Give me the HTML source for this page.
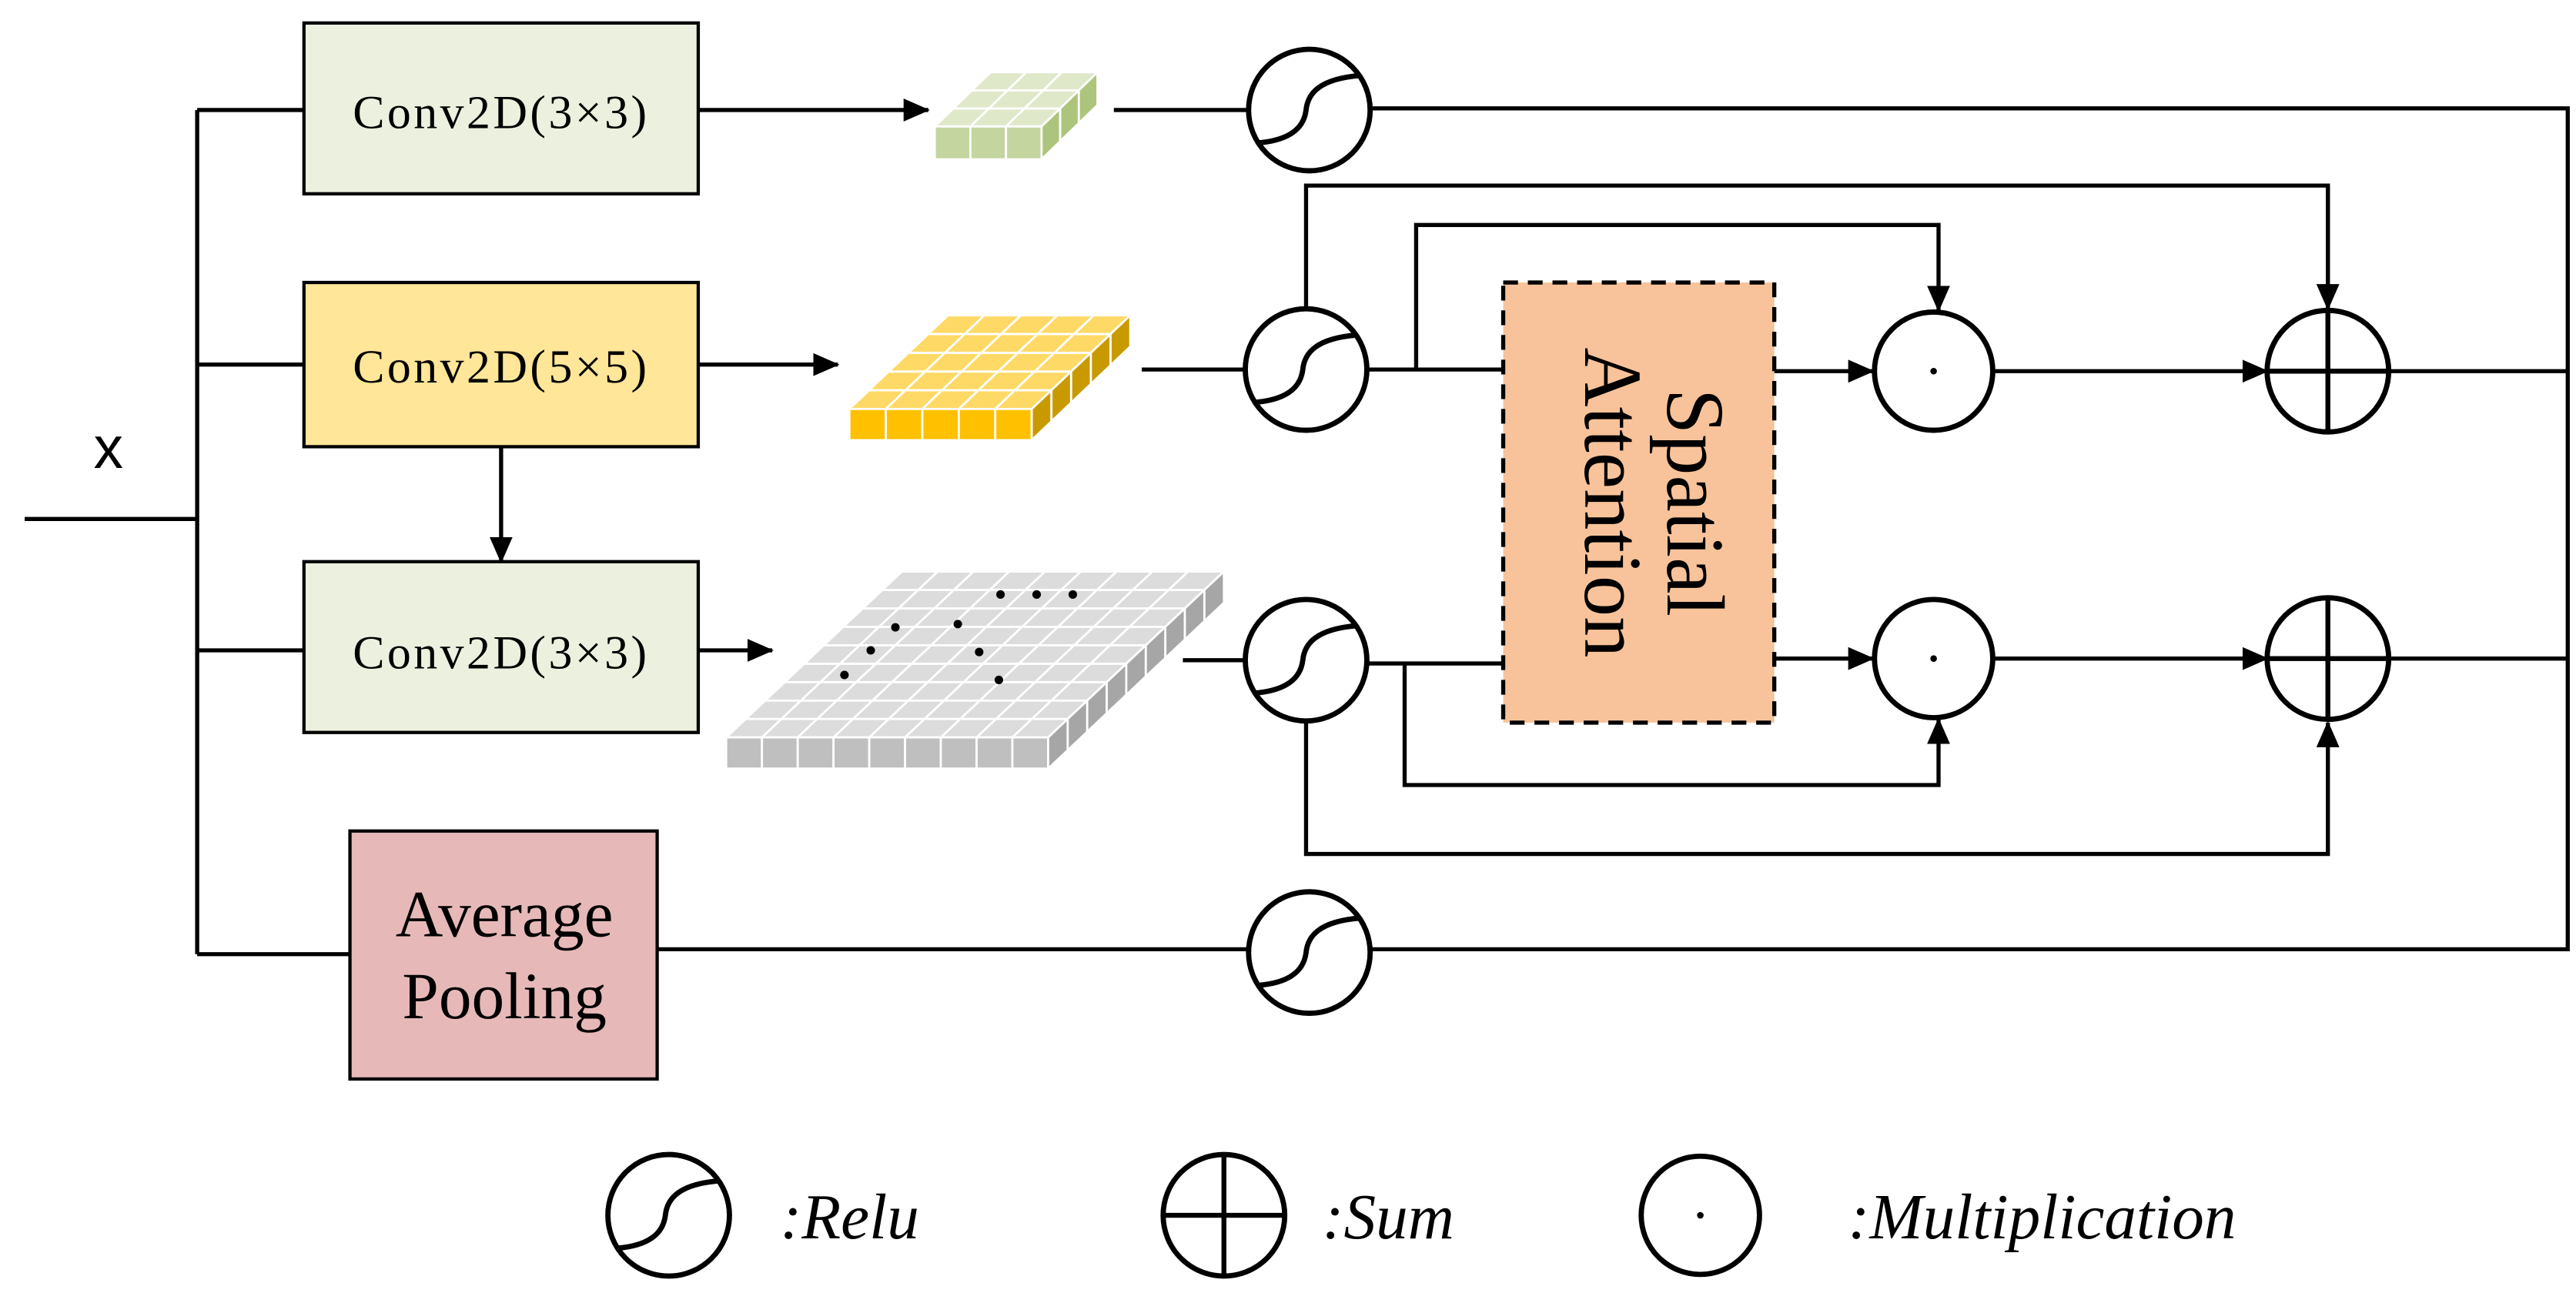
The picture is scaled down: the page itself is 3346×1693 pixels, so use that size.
<!DOCTYPE html>
<html><head><meta charset="utf-8"><style>html,body{margin:0;padding:0;background:#fff}svg{display:block}</style></head>
<body>
<svg id="s" xmlns="http://www.w3.org/2000/svg" width="3346" height="1693" viewBox="0 0 1568 793.4">
<defs>
<marker id="a" markerUnits="userSpaceOnUse" markerWidth="16" markerHeight="14" refX="15" refY="7" orient="auto"><path d="M0,0 L16,7 L0,14 Z" fill="#000"/></marker>
<g id="relu"><circle r="37" fill="#fff" stroke="#000" stroke-width="3.2"/><path d="M-31,20 C-8,18 -3,8 -2,0 C-1,-10 6,-19 31,-21" fill="none" stroke="#000" stroke-width="3.2"/></g>
<g id="sum"><circle r="37" fill="#fff" stroke="#000" stroke-width="3.2"/><path d="M-37,0 H37 M0,-37 V37" stroke="#000" stroke-width="3"/></g>
<g id="mul"><circle r="36" fill="#fff" stroke="#000" stroke-width="3.2"/><circle r="2" fill="#000"/></g>
</defs>
<g stroke="#000" stroke-width="2.5" fill="none">
<path d="M15,316 H120 M120,67 V581 M120,67 H185 M120,222 H185 M120,396 H185 M120,581 H213"/>
<path d="M425,67 H565" marker-end="url(#a)"/>
<path d="M425,222 H510" marker-end="url(#a)"/>
<path d="M305,272 V342" marker-end="url(#a)"/>
<path d="M425,396 H470" marker-end="url(#a)"/>
<path d="M678,67 H760 M835,66 H1563 V578 H835 M400,578 H760 M695,225 H760 M720,402 H760"/>
<path d="M833,225 H915 M833,404 H915 M795,188 V113 H1417 V187" />
<path d="M1417,113 V188" marker-end="url(#a)"/>
<path d="M862,225 V137 H1180 V189" marker-end="url(#a)"/>
<path d="M855,404 V478 H1180 V438" marker-end="url(#a)"/>
<path d="M795,436 V520 H1417 V440" marker-end="url(#a)"/>
<path d="M1080,226 H1140" marker-end="url(#a)"/>
<path d="M1080,401 H1140" marker-end="url(#a)"/>
<path d="M1213,226 H1380" marker-end="url(#a)"/>
<path d="M1213,401 H1380" marker-end="url(#a)"/>
<path d="M1454,226 H1563 M1454,401 H1563"/>
</g>
<rect x="185" y="14" width="240" height="104" fill="#ebf1de" stroke="#000" stroke-width="2"/>
<rect x="185" y="172" width="240" height="100" fill="#ffe699" stroke="#000" stroke-width="2"/>
<rect x="185" y="342" width="240" height="104" fill="#ebf1de" stroke="#000" stroke-width="2"/>
<rect x="213" y="506" width="187" height="151" fill="#e6b9b8" stroke="#000" stroke-width="2"/>
<rect x="915" y="172" width="165" height="268" fill="#f8c39a" stroke="#000" stroke-width="2.5" stroke-dasharray="9,6"/>
<g font-family="Liberation Serif, serif" fill="#000" text-anchor="middle">
<text x="305" y="78" font-size="29" letter-spacing="1.6">Conv2D(3×3)</text>
<text x="305" y="233" font-size="29" letter-spacing="1.6">Conv2D(5×5)</text>
<text x="305" y="407" font-size="29" letter-spacing="1.6">Conv2D(3×3)</text>
<text x="307" y="570" font-size="40">Average</text>
<text x="307" y="620" font-size="40">Pooling</text>
<g transform="translate(997,306) rotate(90)" font-size="50"><text x="0" y="-18">Spatial</text><text x="0" y="32">Attention</text></g>
</g>
<text x="66" y="285" font-family="Liberation Sans, sans-serif" font-size="36" text-anchor="middle">x</text>
<g id="cubes"></g>
<use href="#relu" x="797" y="67"/>
<use href="#relu" x="795" y="225"/>
<use href="#relu" x="795" y="402"/>
<use href="#relu" x="797" y="580"/>
<use href="#mul" x="1177" y="226"/>
<use href="#mul" x="1177" y="401"/>
<use href="#sum" x="1417" y="226"/>
<use href="#sum" x="1417" y="401"/>
<use href="#relu" x="407" y="740"/>
<use href="#sum" x="745" y="740"/>
<use href="#mul" x="1035" y="740"/>
<g font-family="Liberation Serif, serif" font-style="italic" font-size="39">
<text x="475" y="754">:Relu</text>
<text x="805" y="754">:Sum</text>
<text x="1125" y="754">:Multiplication</text>
</g>
</svg>
<script>
(function(){
var g=document.getElementById('cubes'),NS='http://www.w3.org/2000/svg';
function poly(pts,fill){var p=document.createElementNS(NS,'polygon');p.setAttribute('points',pts.map(function(q){return q[0].toFixed(2)+','+q[1].toFixed(2)}).join(' '));p.setAttribute('fill',fill);p.setAttribute('stroke','#fff');p.setAttribute('stroke-width','1.3');g.appendChild(p);}
function cube(x0,x1,y0,y1,dx,dy,n,m,top,front,side){
 var cw=(x1-x0)/n, ddx=dx/m, ddy=dy/m;
 for(var r=0;r<m;r++)for(var c=0;c<n;c++){
  var bx=x0+c*cw+r*ddx, by=y0-r*ddy;
  poly([[bx,by],[bx+cw,by],[bx+cw+ddx,by-ddy],[bx+ddx,by-ddy]],top);}
 for(var c=0;c<n;c++)poly([[x0+c*cw,y0],[x0+(c+1)*cw,y0],[x0+(c+1)*cw,y1],[x0+c*cw,y1]],front);
 for(var r=0;r<m;r++){var sx=x1+r*ddx,sy=y0-r*ddy;
  poly([[sx,sy],[sx+ddx,sy-ddy],[sx+ddx,sy-ddy+(y1-y0)],[sx,sy+(y1-y0)]],side);}
}
cube(569,634,77,97,34,33,3,3,'#dfe8c8','#c4d59f','#adc47c');
cube(517,628,249,268,60,57,5,5,'#ffd966','#ffc000','#c99a00');
cube(442,638,449,468,107,101,9,9,'#dcdcdc','#bfbfbf','#a6a6a6');
var d=[[609,362],[631,362],[653,362],[583,380],[545,382],[530,396],[596,397],[514,411],[608,414]];
d.forEach(function(p){var c=document.createElementNS(NS,'circle');c.setAttribute('cx',p[0]);c.setAttribute('cy',p[1]);c.setAttribute('r','2.6');c.setAttribute('fill','#000');g.appendChild(c);});
})();
</script>
</body></html>
